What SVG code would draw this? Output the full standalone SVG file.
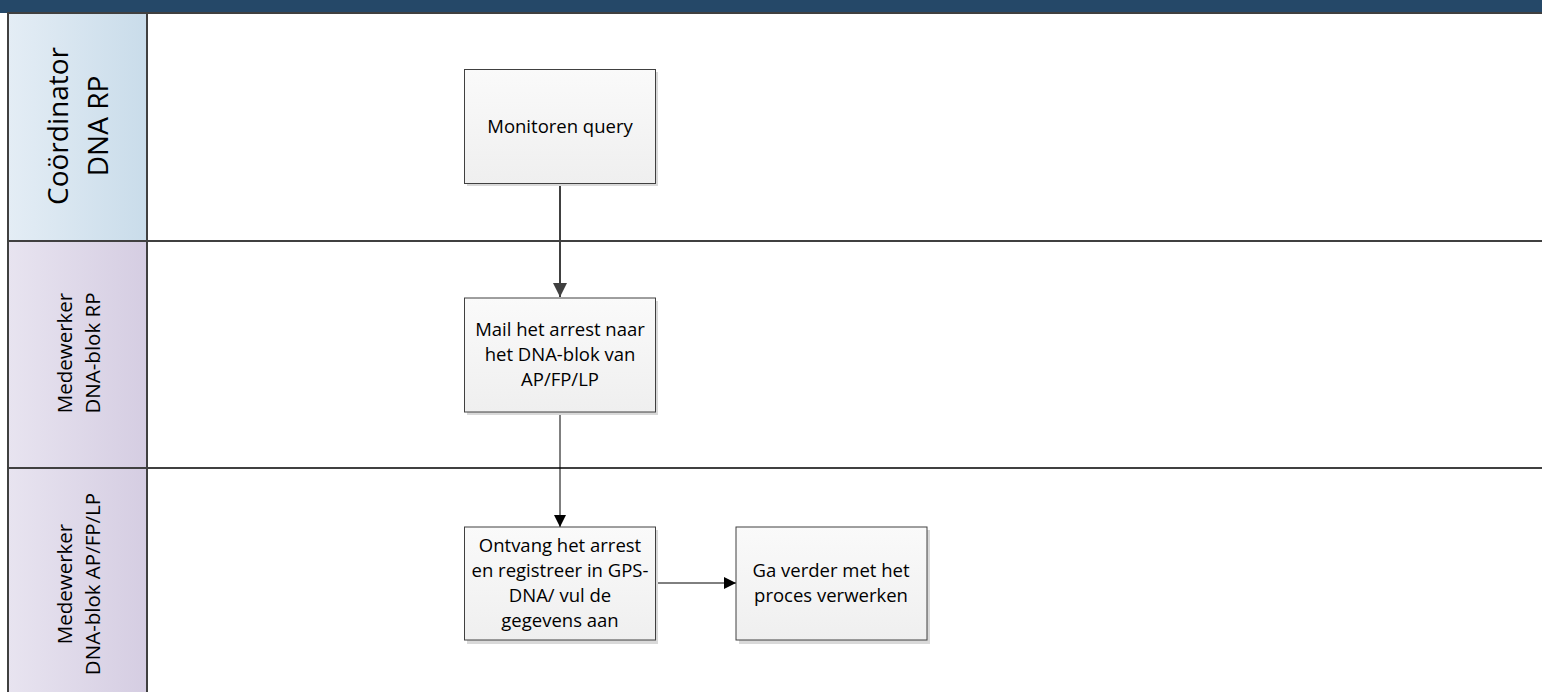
<svg xmlns="http://www.w3.org/2000/svg" width="1542" height="692" viewBox="0 0 1542 692">
<style>
.lane{stroke:#404040;stroke-width:2}
.lbl{font-family:"Open Sans","Liberation Sans",sans-serif;fill:#000;text-anchor:middle}
.box{fill:url(#bg);stroke:#404040;stroke-width:1}
.shadow{fill:#d9d9d9}
.t{font-family:"Open Sans","Liberation Sans",sans-serif;font-size:18.5px;fill:#000;text-anchor:middle}
</style>
<defs>
<linearGradient id="blue" x1="0" y1="0" x2="1" y2="0"><stop offset="0" stop-color="#e4edf5"/><stop offset="1" stop-color="#c9dcea"/></linearGradient>
<linearGradient id="lav" x1="0" y1="0" x2="1" y2="0"><stop offset="0" stop-color="#e8e4f0"/><stop offset="1" stop-color="#d5cde2"/></linearGradient>
<linearGradient id="bg" x1="0" y1="0" x2="0" y2="1"><stop offset="0" stop-color="#fafafa"/><stop offset="1" stop-color="#efefef"/></linearGradient>
<marker id="ah" markerWidth="12" markerHeight="12" viewBox="0 0 10 10" refX="10" refY="5" orient="auto" markerUnits="userSpaceOnUse"><path d="M0,0 L10,5 L0,10 z" fill="#000"/></marker>
<marker id="ah2" markerWidth="14" markerHeight="14" viewBox="0 0 10 10" refX="10" refY="5" orient="auto" markerUnits="userSpaceOnUse"><path d="M0,0 L10,5 L0,10 z" fill="#404040"/></marker>
</defs>
<rect x="0" y="0" width="1542" height="692" fill="#fff"/>
<rect x="0" y="0" width="1542" height="13" fill="#254868"/>
<g id="lanes">
<rect x="8" y="13" width="139" height="228" fill="url(#blue)" class="lane"/>
<rect x="8" y="241" width="139" height="227" fill="url(#lav)" class="lane"/>
<rect x="8" y="468" width="139" height="226" fill="url(#lav)" class="lane"/>
<line x1="8" y1="13" x2="1542" y2="13" class="lane"/>
<line x1="147" y1="241" x2="1542" y2="241" class="lane"/>
<line x1="147" y1="468" x2="1542" y2="468" class="lane"/>
<text class="lbl" font-size="28" transform="translate(76,126) rotate(-90)"><tspan x="0" y="-8">Coördinator</tspan><tspan x="0" y="32">DNA RP</tspan></text>
<text class="lbl" font-size="20.5" transform="translate(78,353) rotate(-90)"><tspan x="0" y="-6">Medewerker</tspan><tspan x="0" y="22">DNA-blok RP</tspan></text>
<text class="lbl" font-size="20.5" transform="translate(78,584) rotate(-90)"><tspan x="0" y="-6">Medewerker</tspan><tspan x="0" y="22">DNA-blok AP/FP/LP</tspan></text>
</g>
<g id="connectors">
<line x1="560" y1="183" x2="560" y2="297" stroke="#404040" stroke-width="2" marker-end="url(#ah2)"/>
<line x1="560" y1="412" x2="560" y2="527" stroke="#000" stroke-width="1" marker-end="url(#ah)"/>
<line x1="655" y1="583" x2="736" y2="583" stroke="#000" stroke-width="1" marker-end="url(#ah)"/>
</g>
<g id="n1">
<rect x="467" y="72" width="191" height="114" class="shadow"/>
<rect x="464.5" y="69.5" width="191" height="114" class="box"/>
<text class="t" x="560" y="133">Monitoren query</text>
</g>
<g id="n2">
<rect x="467" y="301" width="191" height="114" class="shadow"/>
<rect x="464.5" y="298" width="191" height="114" class="box"/>
<text class="t"><tspan x="560" y="336">Mail het arrest naar</tspan><tspan x="560" y="361">het DNA-blok van</tspan><tspan x="560" y="386">AP/FP/LP</tspan></text>
</g>
<g id="n3">
<rect x="467" y="530" width="191" height="114" class="shadow"/>
<rect x="464.5" y="527" width="191" height="113" class="box"/>
<text class="t"><tspan x="560" y="552">Ontvang het arrest</tspan><tspan x="560" y="577">en registreer in GPS-</tspan><tspan x="560" y="602">DNA/ vul de</tspan><tspan x="560" y="627">gegevens aan</tspan></text>
</g>
<g id="n4">
<rect x="739" y="530" width="191" height="114" class="shadow"/>
<rect x="736" y="527" width="191" height="113" class="box"/>
<text class="t"><tspan x="831" y="577">Ga verder met het</tspan><tspan x="831" y="602">proces verwerken</tspan></text>
</g>
</svg>
